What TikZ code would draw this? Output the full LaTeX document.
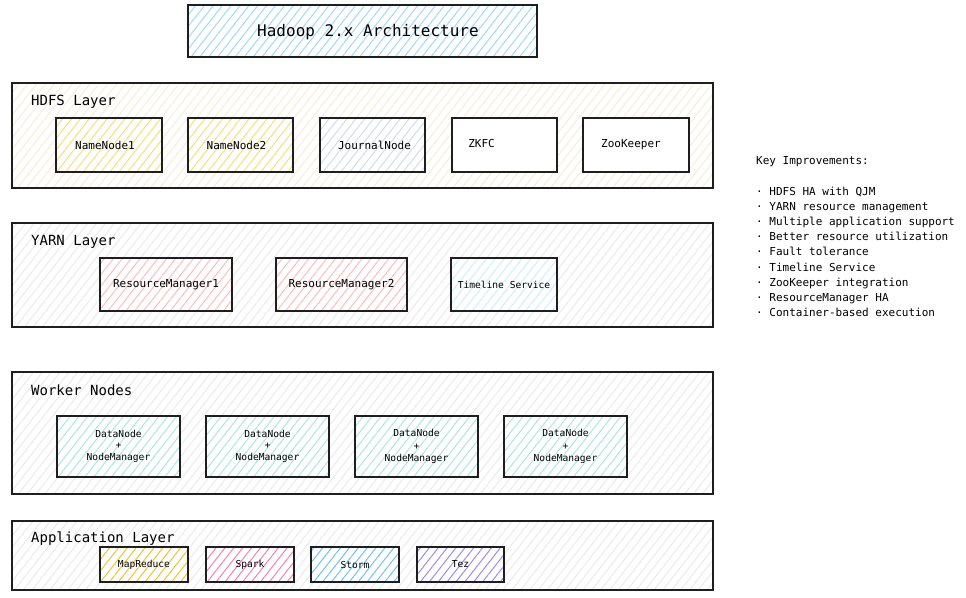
\documentclass[tikz,border=0pt]{standalone}
\usepackage{fontspec}
\setmainfont{DejaVu Sans Mono}
\usetikzlibrary{patterns.meta}
\definecolor{inkc}{HTML}{1E1E1E}
\definecolor{titleh}{HTML}{A5D8FF}
\definecolor{hdfsh}{HTML}{F4EEDB}
\definecolor{layh}{HTML}{EBEBEB}
\definecolor{nnh}{HTML}{F5DF80}
\definecolor{jnh}{HTML}{D3DDE8}
\definecolor{rmh}{HTML}{FFBEBE}
\definecolor{tlh}{HTML}{CFEFF3}
\definecolor{dnh}{HTML}{B0E6DF}
\definecolor{mrh}{HTML}{F2C23C}
\definecolor{sph}{HTML}{F783AC}
\definecolor{sth}{HTML}{74C0FC}
\definecolor{tzh}{HTML}{9D8CF2}
\tikzset{
  hatch/.style={preaction={fill=white},
    pattern={Lines[angle=52,distance=7pt,line width=1pt]}, pattern color=#1},
  box/.style={draw=inkc, line width=1.2pt, inner sep=0pt, outer sep=0pt},
  layerbox/.style={box, hatch=#1},
  big/.style={font=\fontsize{16}{18}\selectfont},
  lab/.style={font=\fontsize{14}{16}\selectfont, anchor=west, inner sep=0pt},
  mid/.style={font=\fontsize{11}{13}\selectfont},
  sm/.style={font=\fontsize{9.6}{12.6}\selectfont, align=center},
}
\begin{document}
\begin{tikzpicture}[x=1pt,y=-1pt]
\useasboundingbox (0,0) rectangle (966,597);
% title
\node[box, hatch=titleh, minimum width=349pt, minimum height=52pt] (title) at (362.5,31) {};
\node[big, inner sep=0pt] (titletxt) at (368,32) {Hadoop 2.x Architecture};
% HDFS layer
\node[layerbox=hdfsh, minimum width=701pt, minimum height=105pt] (hdfs) at (362.5,135.5) {};
\node[lab] (hdfsl) at (31,102) {HDFS Layer};
\node[box, hatch=nnh, minimum width=106pt, minimum height=54pt, mid] (nn1) at (109,145) {\hspace*{-8pt}NameNode1};
\node[box, hatch=nnh, minimum width=105pt, minimum height=54pt, mid] (nn2) at (240.5,145) {\hspace*{-8pt}NameNode2};
\node[box, hatch=jnh, minimum width=105pt, minimum height=54pt, mid] (jn) at (372.5,145) {\hspace*{4pt}JournalNode};
\node[box, fill=white, minimum width=105pt, minimum height=54pt] (zkfc) at (504.5,145) {};
\node[mid, inner sep=0pt] (zkfct) at (481.5,143) {ZKFC};
\node[box, fill=white, minimum width=106pt, minimum height=54pt, mid] (zk) at (636,145) {\hspace*{-10pt}ZooKeeper};
% YARN layer
\node[layerbox=layh, minimum width=701pt, minimum height=104pt] (yarn) at (362.5,275) {};
\node[lab] (yarnl) at (31,242) {YARN Layer};
\node[box, hatch=rmh, minimum width=132pt, minimum height=53pt, mid] (rm1) at (166,284.5) {ResourceManager1};
\node[box, hatch=rmh, minimum width=131pt, minimum height=53pt, mid] (rm2) at (341.5,284.5) {ResourceManager2};
\node[box, hatch=tlh, minimum width=106pt, minimum height=53pt, sm] (tl) at (504,284.5) {Timeline Service};
% Worker nodes
\node[layerbox=layh, minimum width=701pt, minimum height=122pt] (work) at (362.5,433) {};
\node[lab] (workl) at (31,390) {Worker Nodes};
\node[box, hatch=dnh, minimum width=123pt, minimum height=61pt, sm] (w1) at (118.5,446.5) {\raisebox{-2pt}{DataNode}\\+\\NodeManager};
\node[box, hatch=dnh, minimum width=123pt, minimum height=61pt, sm] (w2) at (267.5,446.5) {\raisebox{-2pt}{DataNode}\\+\\NodeManager};
\node[box, hatch=dnh, minimum width=123pt, minimum height=61pt, sm] (w3) at (416.5,446.5) {DataNode\\+\\NodeManager};
\node[box, hatch=dnh, minimum width=123pt, minimum height=61pt, sm] (w4) at (565.5,446.5) {DataNode\\+\\NodeManager};
% Application layer
\node[layerbox=layh, minimum width=701pt, minimum height=69pt] (app) at (362.5,555.5) {};
\node[lab] (appl) at (31,539) {Application Layer};
\node[box, hatch=mrh, minimum width=88pt, minimum height=35pt, sm] (mr) at (144,564.5) {MapReduce};
\node[box, hatch=sph, minimum width=88pt, minimum height=35pt, sm] (sp) at (250,564.5) {Spark};
\node[box, hatch=sth, minimum width=88pt, minimum height=35pt, sm] (st) at (355,564.5) {Storm};
\node[box, hatch=tzh, minimum width=87pt, minimum height=35pt, sm] (tz) at (460.5,564.5) {Tez};
% Key improvements
\node[anchor=north west, inner sep=0pt, align=left, font=\fontsize{11}{15.2}\selectfont] (keys) at (756,156.5)
{Key Improvements:\\[15.2pt]
· HDFS HA with QJM\\
· YARN resource management\\
· Multiple application support\\
· Better resource utilization\\
· Fault tolerance\\
· Timeline Service\\
· ZooKeeper integration\\
· ResourceManager HA\\
· Container-based execution};
\end{tikzpicture}
\end{document}
